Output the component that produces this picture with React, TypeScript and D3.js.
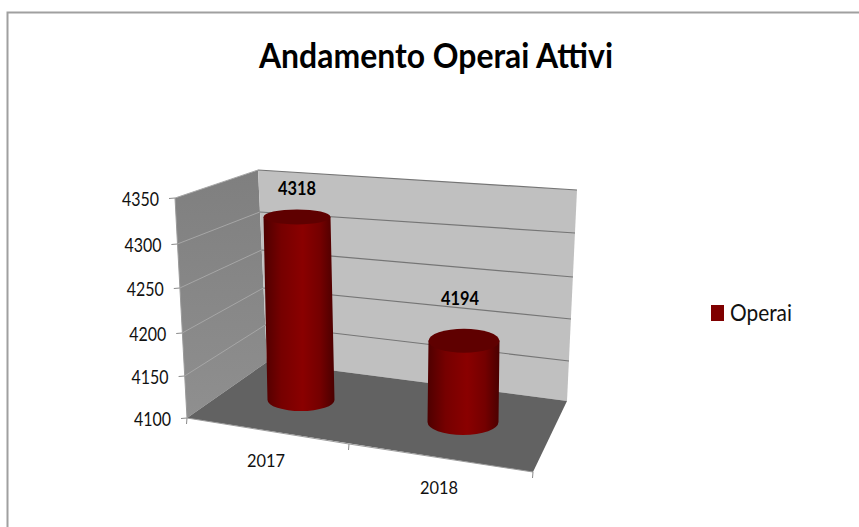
import React from 'react';
import * as d3 from 'd3';

const categories = ['2017', '2018'];
const values = [4318, 4194];
const tickValues = [4100, 4150, 4200, 4250, 4300, 4350];
const seriesName = 'Operai';
const title = 'Andamento Operai Attivi';

const font = 'Lato, "Open Sans", sans-serif';

// corners of the 3d box, value scale runs along each upright edge
const frontX = d3.scaleLinear().domain([4100, 4350]).range([187, 175]);
const frontY = d3.scaleLinear().domain(tickValues).range([418, 376, 333, 288, 244, 198]);
const backLeftX = d3.scaleLinear().domain([4100, 4350]).range([267, 258]);
const backLeftY = d3.scaleLinear().domain(tickValues).range([362, 325, 288, 250, 212, 170]);
const backRightX = d3.scaleLinear().domain([4100, 4350]).range([567, 577]);
const backRightY = d3.scaleLinear().domain(tickValues).range([401, 361, 319, 277, 233, 190]);

// front edge of the floor, one step per category
const edgeX = d3.scaleLinear().domain([0, 1, 2]).range([187, 349, 533]);
const edgeY = d3.scaleLinear().domain([0, 1, 2]).range([418, 444, 472]);

// cylinders get a bit bigger towards the right
const baseX = d3.scalePoint<string>().domain(categories).range([301, 463]);
const baseY = d3.scalePoint<string>().domain(categories).range([400, 422]);
const topShift = d3.scalePoint<string>().domain(categories).range([-4, 1]);
const radiusX = d3.scalePoint<string>().domain(categories).range([33.5, 35.5]);
const radiusTop = d3.scalePoint<string>().domain(categories).range([7.5, 12]);
const radiusBase = d3.scalePoint<string>().domain(categories).range([11, 13]);
const fullHeight = d3.scalePoint<string>().domain(categories).range([210, 216]);

const poly = (pts: [number, number][]) => d3.line()(pts) + 'Z';

const [lo, hi] = [tickValues[0], tickValues[tickValues.length - 1]];

const leftWall = poly([
  [frontX(hi), frontY(hi)],
  [backLeftX(hi), backLeftY(hi)],
  [backLeftX(lo), backLeftY(lo)],
  [frontX(lo), frontY(lo)],
]);
const backWall = poly([
  [backLeftX(hi), backLeftY(hi)],
  [backRightX(hi), backRightY(hi)],
  [backRightX(lo), backRightY(lo)],
  [backLeftX(lo), backLeftY(lo)],
]);
const floor = poly([
  [edgeX(0), edgeY(0)],
  [backLeftX(lo), backLeftY(lo)],
  [backRightX(lo), backRightY(lo)],
  [edgeX(2), edgeY(2)],
]);

const App = () => {
  return (
    <svg
      width={859}
      height={527}
      style={{ position: 'absolute', left: 0, top: 0, display: 'block', background: '#fff' }}
    >
      <defs>
        <linearGradient id="cyl" x1="0" x2="1" y1="0" y2="0">
          <stop offset="0" stopColor="#4e0000" />
          <stop offset="0.25" stopColor="#760000" />
          <stop offset="0.55" stopColor="#8a0000" />
          <stop offset="0.8" stopColor="#740000" />
          <stop offset="1" stopColor="#4a0000" />
        </linearGradient>
        <linearGradient id="wallL" x1="0" x2="0" y1="0" y2="1">
          <stop offset="0" stopColor="#7f7f7f" />
          <stop offset="1" stopColor="#8f8f8f" />
        </linearGradient>
      </defs>

      {/* outer frame, only top and left are in the crop */}
      <path d="M7.5,527V12.5H859" fill="none" stroke="#a0a0a0" strokeWidth={2} />

      <text
        x={436}
        y={68}
        textAnchor="middle"
        fontFamily={font}
        fontWeight={700}
        fontSize={35}
        textLength={354}
        lengthAdjust="spacingAndGlyphs"
        fill="#000"
      >
        {title}
      </text>

      <path d={leftWall} fill="url(#wallL)" />
      <path d={backWall} fill="#c0c0c0" />
      <path d={floor} fill="#626262" />

      {tickValues.map((t) => (
        <g key={t}>
          {t !== lo && (
            <>
              <path
                d={d3.line()([
                  [frontX(t), frontY(t)],
                  [backLeftX(t), backLeftY(t)],
                ])!}
                stroke="#a6a6a6"
                strokeWidth={1}
                fill="none"
              />
              <path
                d={d3.line()([
                  [backLeftX(t), backLeftY(t)],
                  [backRightX(t), backRightY(t)],
                ])!}
                stroke="#757575"
                strokeWidth={1.2}
                fill="none"
              />
            </>
          )}
          <path
            d={d3.line()([
              [frontX(t) - 6, frontY(t) + 0.5],
              [frontX(t), frontY(t)],
            ])!}
            stroke="#8a8a8a"
            fill="none"
          />
          <text
            x={frontX(t) - 16}
            y={frontY(t) + 8}
            textAnchor="end"
            fontFamily={font}
            fontSize={19}
            textLength={37}
            lengthAdjust="spacingAndGlyphs"
            fill="#111"
          >
            {t}
          </text>
        </g>
      ))}

      {/* axis lines */}
      <path
        d={d3.line()([
          [frontX(hi), frontY(hi)],
          [frontX(lo), frontY(lo)],
          [edgeX(1), edgeY(1)],
          [edgeX(2), edgeY(2)],
        ])!}
        fill="none"
        stroke="#9a9a9a"
      />
      {[0, 1, 2].map((i) => (
        <path
          key={i}
          d={d3.line()([
            [edgeX(i), edgeY(i)],
            [edgeX(i) - 0.5, edgeY(i) + 6],
          ])!}
          stroke="#8a8a8a"
          fill="none"
        />
      ))}

      {categories.map((c, i) => {
        const cx = baseX(c)!;
        const cy = baseY(c)!;
        const rx = radiusX(c)!;
        const ryB = radiusBase(c)!;
        const ryT = radiusTop(c)!;
        const h = d3.scaleLinear().domain([lo, hi]).range([0, fullHeight(c)!]);
        const tx = cx + topShift(c)!;
        const ty = cy - h(values[i]);
        const side =
          `M${tx - rx},${ty}L${cx - rx},${cy}` +
          `A${rx},${ryB} 0 0 0 ${cx + rx},${cy}` +
          `L${tx + rx},${ty}Z`;
        return (
          <g key={c}>
            <path d={side} fill="url(#cyl)" />
            <ellipse cx={tx} cy={ty} rx={rx} ry={ryT} fill="#5f0000" />
            <text
              x={tx + (i === 0 ? 0 : -4)}
              y={ty - (i === 0 ? 22 : 36)}
              textAnchor="middle"
              fontFamily={font}
              fontWeight={700}
              fontSize={18}
              textLength={38}
              lengthAdjust="spacingAndGlyphs"
              fill="#000"
            >
              {values[i]}
            </text>
            <text
              x={(edgeX(i) + edgeX(i + 1)) / 2 - 2}
              y={(edgeY(i) + edgeY(i + 1)) / 2 + 36}
              textAnchor="middle"
              fontFamily={font}
              fontSize={18}
              textLength={38}
              lengthAdjust="spacingAndGlyphs"
              fill="#111"
            >
              {c}
            </text>
          </g>
        );
      })}

      <rect x={711} y={305} width={13} height={16} fill="#7f0000" />
      <text
        x={730}
        y={321}
        fontFamily={font}
        fontSize={23}
        textLength={62}
        lengthAdjust="spacingAndGlyphs"
        fill="#111"
      >
        {seriesName}
      </text>
    </svg>
  );
};

export default App;
